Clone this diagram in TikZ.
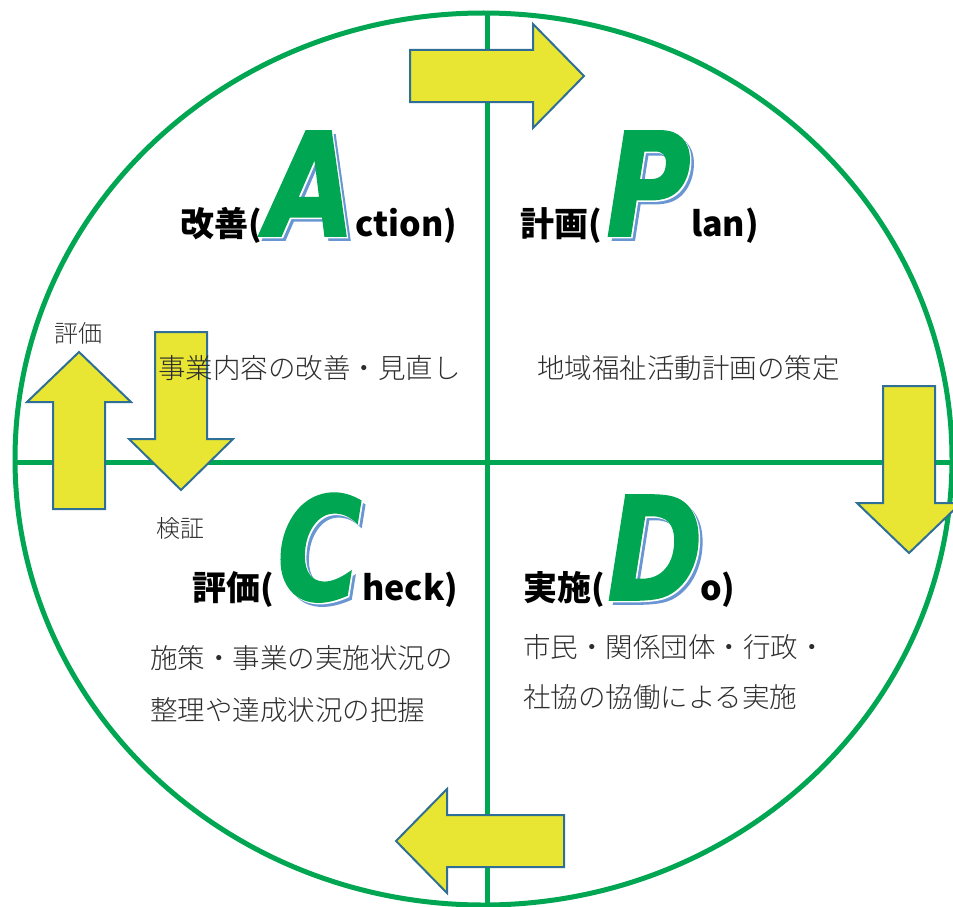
\documentclass[tikz,border=0pt]{standalone}
\usepackage{fontspec}
\usetikzlibrary{positioning}
\definecolor{pdcagreen}{RGB}{0,166,81}
\definecolor{arrowyellow}{RGB}{232,230,50}
\definecolor{arrowblue}{RGB}{47,111,150}
\definecolor{shadowblue}{RGB}{105,150,210}
\definecolor{bodygray}{RGB}{45,45,45}
\IfFontExistsTF{Noto Sans CJK JP Black}
  {\newfontfamily\jpheavy{Noto Sans CJK JP Black}}
  {\newfontfamily\jpheavy{Noto Sans CJK JP}[FakeBold=3]}
\IfFontExistsTF{Noto Sans CJK JP Light}
  {\newfontfamily\jplight{Noto Sans CJK JP Light}}
  {\newfontfamily\jplight{Noto Sans CJK JP}}
\newfontfamily\pdcafont{DejaVu Sans}[FakeStretch=0.8,FakeBold=1.2]
\newcommand{\bigfont}{\pdcafont\bfseries\itshape\fontsize{144}{144}\selectfont}
% big letter with its shadow
\newcommand{\pdcaletter}[3]{%
  \node[bigletter,text=shadowblue] at ([shift={(4,4)}]#2) {#3};
  \node[bigletter,text=white] at ([shift={(1.5,1.5)}]#2) {#3};
  \node[bigletter] (#1) at (#2) {#3};}

\begin{document}
\begin{tikzpicture}[x=1pt,y=-1pt,
            ring/.style={draw=pdcagreen,line width=5pt},
            flow/.style={draw=arrowblue,fill=arrowyellow,line width=2pt,line join=miter},
            body/.style={inner sep=0pt,anchor=west,text=bodygray,font=\jplight\fontsize{27.5}{30}\selectfont},
            note/.style={body,font=\jplight\fontsize{24}{26}\selectfont},
            head/.style={inner sep=0pt,font=\jpheavy\fontsize{34}{36}\selectfont},
            bigletter/.style={inner sep=0pt,anchor=base west,text=pdcagreen,font=\bigfont},
        ]
        \useasboundingbox (0,0) rectangle (953,907);
        \coordinate (top) at (487,13);
        \coordinate (bottom) at (487,905);
        \coordinate (left) at (15,462);
        \coordinate (right) at (952,462);
        \draw[ring] (483.5,459) ellipse [x radius=468.5, y radius=446];
        \draw[ring] (top) -- (bottom);
        \draw[ring] (left) -- (right);

        % cycle arrows
        \draw[flow] (410,50) -- (533,50) -- (533,24) -- (584,76) -- (533,128) -- (533,102) -- (410,102) -- cycle;
        \draw[flow] (883,386) -- (935,386) -- (935,503) -- (961,503) -- (909,553) -- (857,503) -- (883,503) -- cycle;
        \draw[flow] (564,815) -- (447,815) -- (447,789) -- (396,841) -- (447,893) -- (447,867) -- (564,867) -- cycle;
        \draw[flow] (53,509) -- (53,402) -- (27,402) -- (79,352) -- (131,402) -- (105,402) -- (105,509) -- cycle;
        \draw[flow] (155,332) -- (207,332) -- (207,439) -- (233,439) -- (181,490) -- (129,439) -- (155,439) -- cycle;

        % headings
        \pdcaletter{A}{266,236}{A}
        \node[head,anchor=base east] (Akan) at ([xshift=-4pt]A.base west) {改善(};
        \node[head,anchor=base west] (Aen) at (A.base east) {ction)};
        \pdcaletter{P}{606,236}{P}
        \node[head,anchor=base east] (Pkan) at ([xshift=-4pt]P.base west) {計画(};
        \node[head,anchor=base west] (Pen) at (P.base east) {lan)};
        \pdcaletter{C}{277,600}{C}
        \node[head,anchor=base east] (Ckan) at ([xshift=-3pt]C.base west) {評価(};
        \node[head,anchor=base west] (Cen) at (C.base east) {heck)};
        \pdcaletter{D}{607,600}{D}
        \node[head,anchor=base east] (Dkan) at ([xshift=-2pt]D.base west) {実施(};
        \node[head,anchor=base west] (Den) at ([xshift=-3pt]D.base east) {o)};

        % texts
        \node[body] (acttext) at (158,368) {事業内容の改善・見直し};
        \node[body] (plantext) at (537,368) {地域福祉活動計画の策定};
        \node[body] (checkone) at (150,658) {施策・事業の実施状況の};
        \node[body] (checktwo) at (150,710) {整理や達成状況の把握};
        \node[body] (doone) at (523,647) {市民・関係団体・行政・};
        \node[body] (dotwo) at (523,697) {社協の協働による実施};
        \node[note] (hyoka) at (54,333) {評価};
        \node[note] (kensho) at (156,528) {検証};
    \end{tikzpicture}
\end{document}
